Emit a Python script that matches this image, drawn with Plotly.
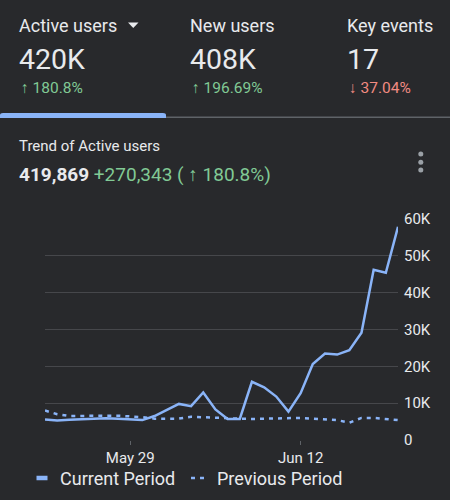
import plotly.graph_objects as go
import pandas as pd

dates = pd.date_range("2024-05-22", "2024-06-20", freq="D")
current = [5.6, 5.3, 5.5, 5.6, 5.9, 5.9, 5.8, 5.7, 5.4, 6.5, 8.1, 9.8, 9.2, 12.9, 8.3,
           5.7, 5.7, 15.8, 14.3, 11.8, 7.7, 12.7, 20.6, 23.5, 23.2, 24.4, 29.1, 46.2, 45.4, 57.9]
previous = [8.0, 7.0, 6.5, 6.6, 6.6, 6.6, 6.6, 6.5, 6.2, 5.8, 5.7, 5.8, 6.3, 6.2, 6.1,
            6.1, 5.8, 5.7, 5.8, 6.0, 6.1, 6.0, 5.8, 5.6, 5.4, 4.7, 6.0, 6.0, 5.8, 5.4]
current = [v * 1000 for v in current]
previous = [v * 1000 for v in previous]

y_ticks = [0, 10000, 20000, 30000, 40000, 50000, 60000]
y_tick_text = ["0", "10K", "20K", "30K", "40K", "50K", "60K"]
x_ticks = ["2024-05-29", "2024-06-12"]
x_tick_text = ["May 29", "Jun 12"]

metrics = ["Active users", "New users", "Key events"]
metric_values = ["420K", "408K", "17"]
metric_changes = ["↑ 180.8%", "↑ 196.69%", "↓ 37.04%"]

BG = "#28292c"
BLUE = "#8ab4f8"
GREEN = "#81c995"
RED = "#f28b82"
WHITE = "#e8eaed"
FONT = "Roboto"

W, H = 450, 500
L, R, T, B = 45, 52, 219, 60
PW = W - L - R
PH = H - T - B


def px(x):
    return (x - L) / PW


def py(y):
    return (H - B - y) / PH


fig = go.Figure()
fig.add_trace(go.Scatter(x=dates, y=previous, mode="lines", name="Previous Period",
                         line=dict(color=BLUE, width=2.5, dash="4px,5px"), showlegend=False))
fig.add_trace(go.Scatter(x=dates, y=current, mode="lines", name="Current Period",
                         line=dict(color=BLUE, width=2.5), showlegend=False))

ann = []
shapes = []

tab_x = [17, 188, 345]
for i in range(3):
    ann.append(dict(x=px(tab_x[i]), y=py(25), text=metrics[i], font=dict(size=18, color=WHITE, family=FONT)))
    ann.append(dict(x=px(tab_x[i]), y=py(60), text=metric_values[i], font=dict(size=28.5, color=WHITE, family=FONT)))
    ann.append(dict(x=px(tab_x[i] + 2), y=py(88), text=metric_changes[i],
                    font=dict(size=15.5, color=RED if i == 2 else GREEN, family=FONT)))

# dropdown triangle
shapes.append(dict(type="path", xref="paper", yref="paper",
                   path=f"M {px(128)} {py(22.5)} L {px(138.5)} {py(22.5)} L {px(133.25)} {py(28)} Z",
                   fillcolor=WHITE, line=dict(width=0)))
# tab underline
shapes.append(dict(type="line", xref="paper", yref="paper", x0=px(166), x1=px(450), y0=py(117.3), y1=py(117.3),
                   line=dict(color="#5f6368", width=1.5)))
shapes.append(dict(type="path", xref="paper", yref="paper",
                   path=f"M {px(0)} {py(118)} L {px(0)} {py(115)} Q {px(0)} {py(113)} {px(3)} {py(113)} "
                        f"L {px(163)} {py(113)} Q {px(166)} {py(113)} {px(166)} {py(115)} L {px(166)} {py(118)} Z",
                   fillcolor=BLUE, line=dict(width=0)))

ann.append(dict(x=px(17), y=py(146), text="Trend of Active users", font=dict(size=15, color=WHITE, family=FONT)))
ann.append(dict(x=px(17), y=py(174),
                text="<b>419,869</b> <span style='color:%s'>+270,343 ( ↑ 180.8%%)</span>" % GREEN,
                font=dict(size=19, color=WHITE, family=FONT)))

# kebab menu
for yy in [154, 162.3, 170]:
    shapes.append(dict(type="circle", xref="paper", yref="paper",
                       x0=px(418.3), x1=px(423.3), y0=py(yy - 2.5), y1=py(yy + 2.5),
                       fillcolor="#9aa0a6", line=dict(width=0)))

# legend
shapes.append(dict(type="line", xref="paper", yref="paper", x0=px(36.5), x1=px(47.5), y0=py(478), y1=py(478),
                   line=dict(color=BLUE, width=4.5)))
shapes.append(dict(type="line", xref="paper", yref="paper", x0=px(191), x1=px(204), y0=py(478), y1=py(478),
                   line=dict(color=BLUE, width=2.5, dash="4px,5px")))
ann.append(dict(x=px(58), y=py(478), text="Current Period", font=dict(size=18, color=WHITE, family=FONT)))
ann.append(dict(x=px(215), y=py(478), text="Previous Period", font=dict(size=18, color=WHITE, family=FONT)))

for a in ann:
    a.update(xref="paper", yref="paper", xanchor="left", yanchor="middle", showarrow=False)

fig.update_layout(
    width=W, height=H,
    margin=dict(l=L, r=R, t=T, b=B),
    paper_bgcolor=BG, plot_bgcolor=BG,
    annotations=ann, shapes=shapes,
    showlegend=False,
    font=dict(family=FONT, color=WHITE),
    xaxis=dict(range=[dates[0], dates[-1]], tickvals=x_ticks, ticktext=x_tick_text,
               showgrid=False, zeroline=False, showline=False,
               ticks="outside", ticklen=4, tickcolor="#5f6368", tickwidth=1,
               tickfont=dict(size=15, color=WHITE, family=FONT)),
    yaxis=dict(range=[0, 60000], tickvals=y_ticks, ticktext=y_tick_text, side="right",
               showgrid=True, gridcolor="#46474b", gridwidth=1, zeroline=False, showline=False,
               ticks="", ticklabelstandoff=5,
               tickfont=dict(size=15, color=WHITE, family=FONT)),
)

fig.write_html("out.html")
